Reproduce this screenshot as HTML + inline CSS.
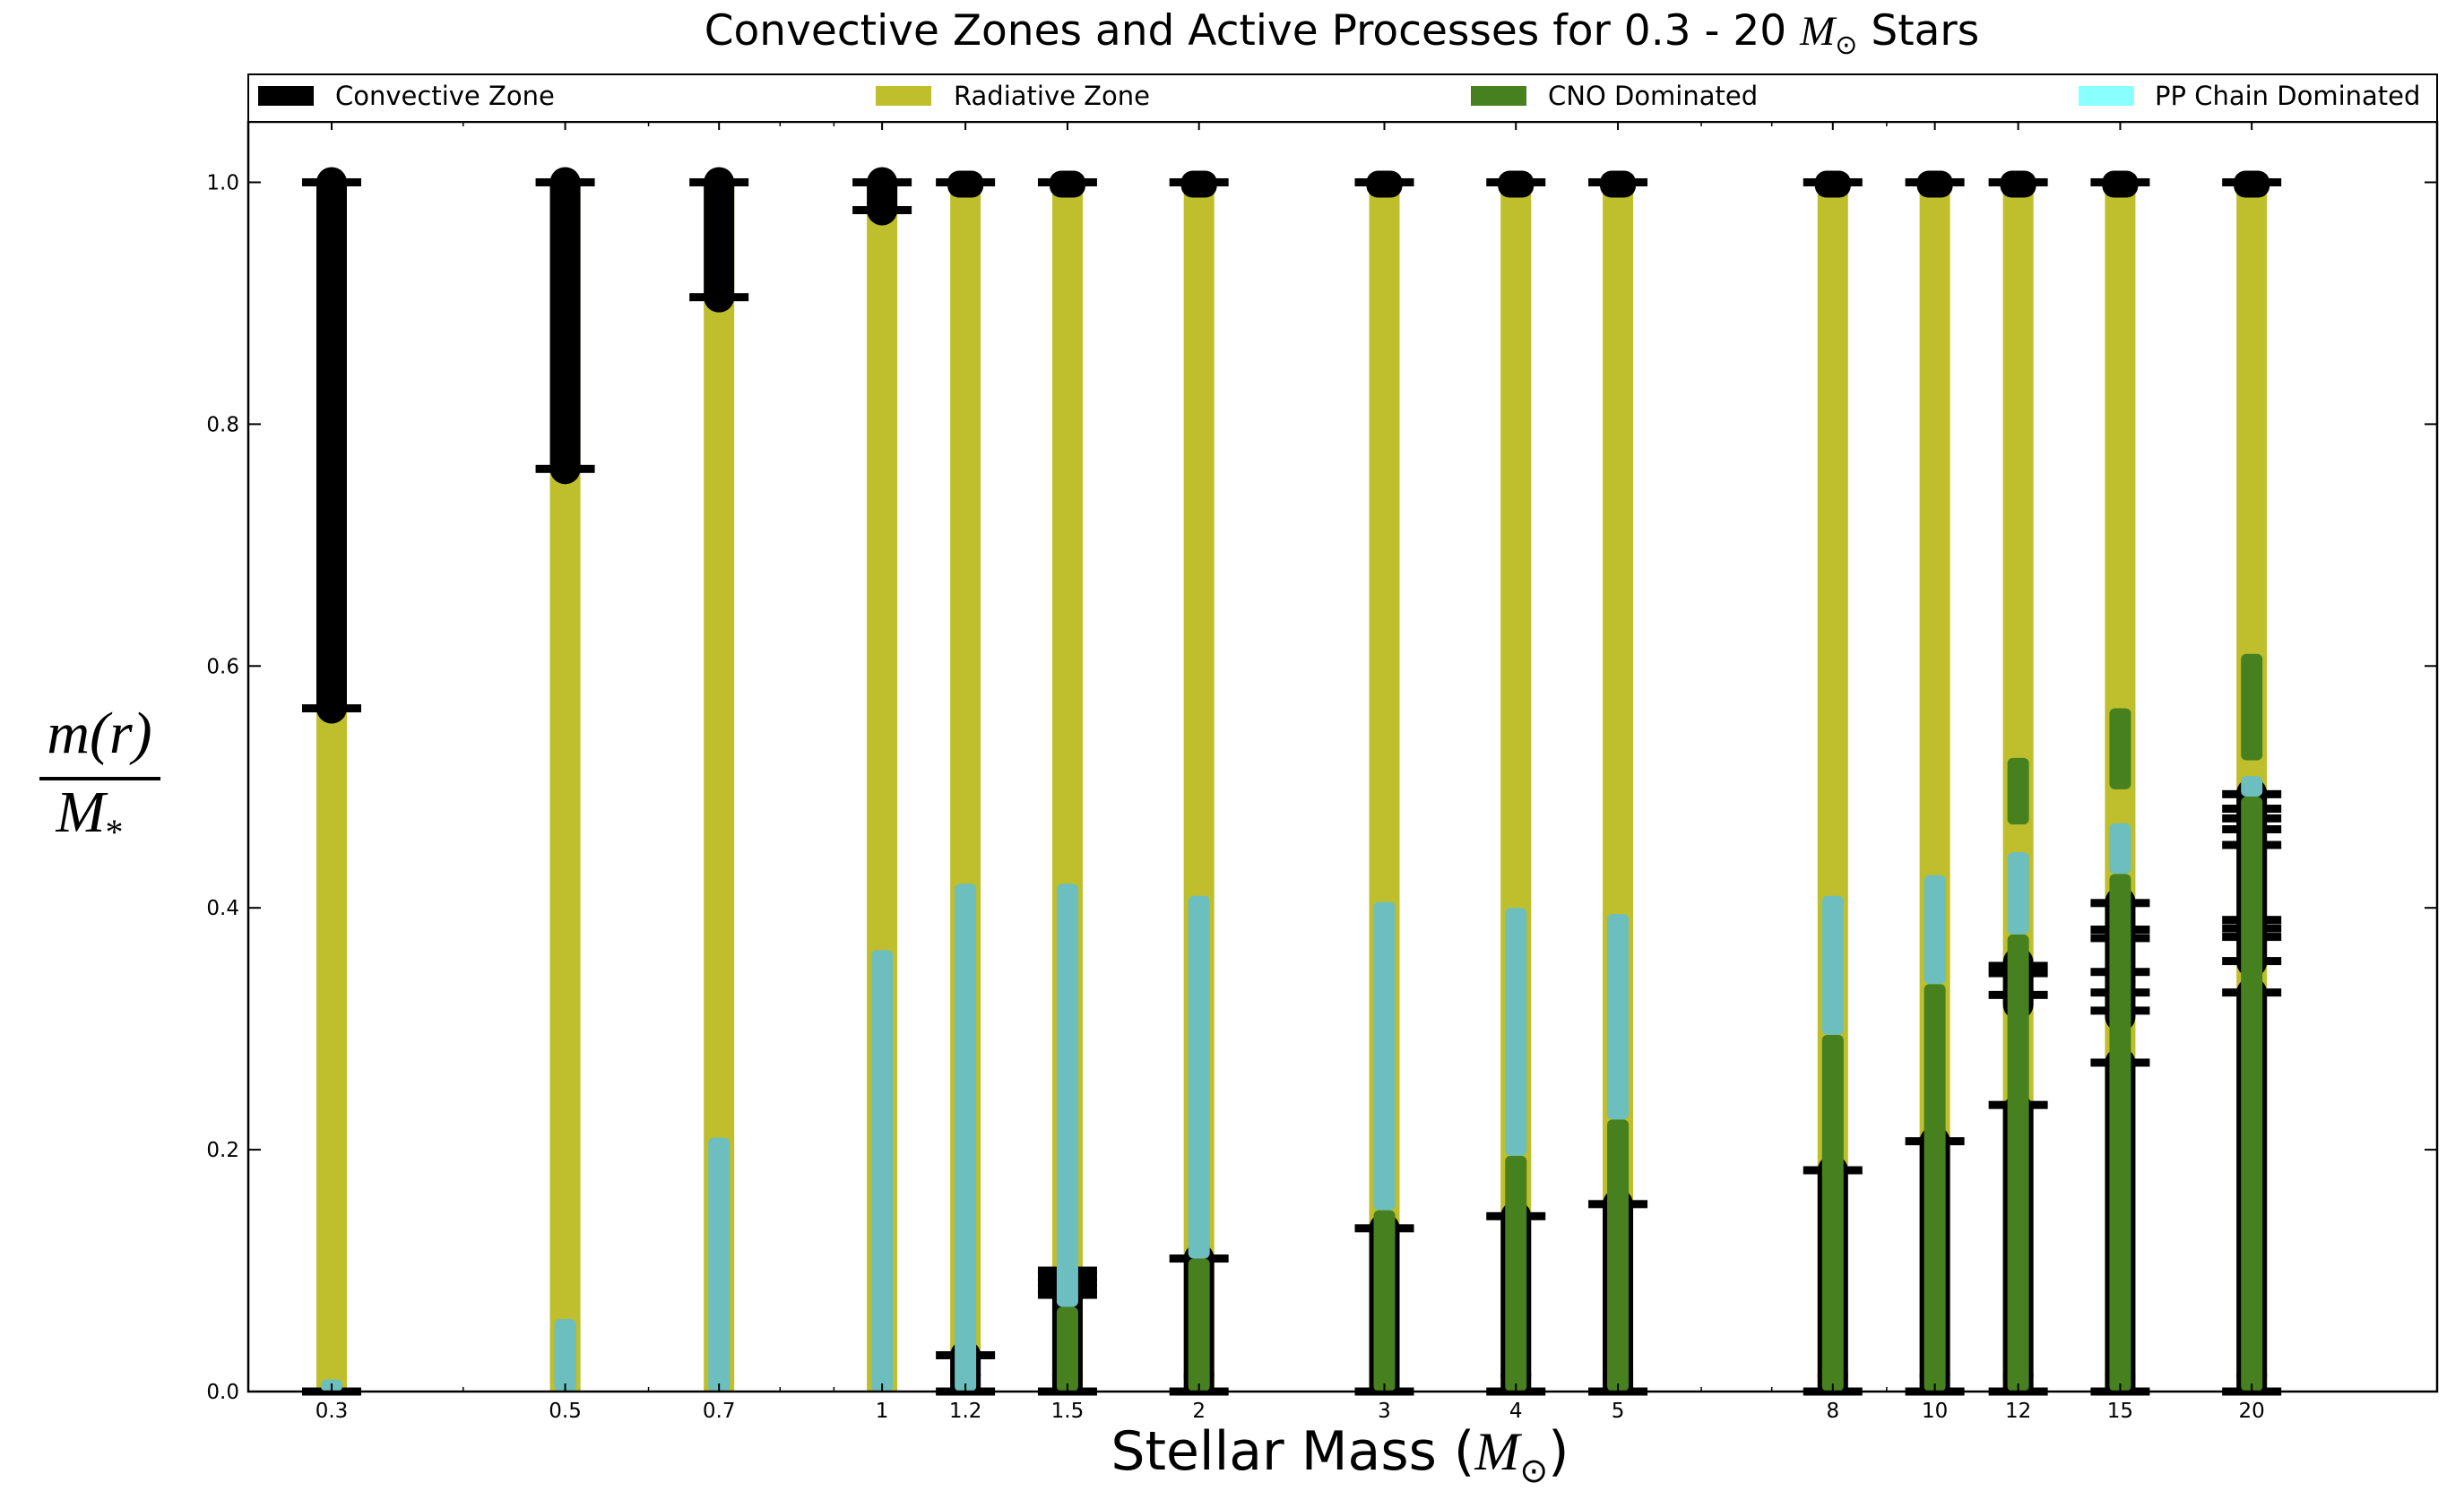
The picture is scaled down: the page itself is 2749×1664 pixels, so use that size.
<!DOCTYPE html>
<html><head><meta charset="utf-8"><style>
html,body{margin:0;padding:0;background:#fff;}
svg{display:block;}
.sans{font-family:"DejaVu Sans","Liberation Sans",sans-serif;}
.serif{font-family:"Liberation Serif","DejaVu Serif",serif;font-style:italic;}
</style></head><body>
<svg id="chart" width="2749" height="1664" viewBox="0 0 2749 1664" xmlns="http://www.w3.org/2000/svg">
<rect x="0" y="0" width="2749" height="1664" fill="#fff"/>
<text class="sans" x="1497" y="50" font-size="47" text-anchor="middle">Convective Zones and Active Processes for 0.3 - 20 <tspan class="serif">M</tspan><tspan font-size="30" dy="10">⊙</tspan><tspan dy="-10"> Stars</tspan></text>
<g id="plot"></g>
<g class="sans">
<rect x="277" y="83" width="2442" height="53" fill="#fff" stroke="#000" stroke-width="2"/>
<g><rect x="288" y="96" width="62" height="22" fill="#000"/><text x="374" y="117" font-size="29">Convective Zone</text></g>
<g><rect x="977" y="96" width="62" height="22" fill="#bfbe2c"/><text x="1064" y="117" font-size="29">Radiative Zone</text></g>
<g><rect x="1641" y="96" width="62" height="22" fill="#46801f"/><text x="1727" y="117" font-size="29">CNO Dominated</text></g>
<g><rect x="2319" y="96" width="62" height="22" fill="#8affff"/><text x="2404" y="117" font-size="29">PP Chain Dominated</text></g>
</g>
<text class="sans" x="1495" y="1640" font-size="60" text-anchor="middle">Stellar Mass (<tspan class="serif">M</tspan><tspan font-size="38" dy="14">⊙</tspan><tspan dy="-14">)</tspan></text>
<g>
<text class="serif" x="111" y="840" font-size="66" text-anchor="middle">m(r)</text>
<line x1="44" y1="869" x2="179" y2="869" stroke="#000" stroke-width="4"/>
<text class="serif" x="100" y="928" font-size="66" text-anchor="middle">M<tspan font-size="40" dy="14" style="font-style:normal">*</tspan></text>
</g>
</svg>
<script>
const masses = [0.3,0.5,0.7,1,1.2,1.5,2,3,4,5,8,10,12,15,20];
const massLabels = ["0.3","0.5","0.7","1","1.2","1.5","2","3","4","5","8","10","12","15","20"];
const convZones = [
 [[0.565,1.0]],[[0.763,1.0]],[[0.905,1.0]],[[0.977,1.0]],
 [[0.997,1.0],[0,0.03]],[[0.997,1.0],[0,0.09]],[[0.997,1.0],[0,0.11]],
 [[0.997,1.0],[0,0.135]],[[0.997,1.0],[0,0.145]],[[0.997,1.0],[0,0.155]],
 [[0.997,1.0],[0,0.183]],[[0.997,1.0],[0,0.207]],
 [[0.997,1.0],[0,0.233],[0.32,0.355]],
 [[0.997,1.0],[0,0.272],[0.31,0.339],[0.339,0.405]],
 [[0.997,1.0],[0,0.33],[0.355,0.495]]
];
const capValues = [
 [1.0,0.565,0.0],[1.0,0.763],[1.0,0.905],[1.0,0.977],
 [1.0,0.03,0.0],[1.0,0.1,0.095,0.09,0.085,0.08,0.0],[1.0,0.11,0.0],
 [1.0,0.135,0.0],[1.0,0.145,0.0],[1.0,0.155,0.0],
 [1.0,0.183,0.0],[1.0,0.207,0.0],
 [1.0,0.352,0.346,0.328,0.237,0.0],
 [1.0,0.404,0.382,0.375,0.347,0.330,0.315,0.272,0.0],
 [1.0,0.494,0.482,0.474,0.465,0.452,0.39,0.383,0.376,0.356,0.330,0.0]
];
const cnoZones = [
 [],[],[],[],[],[[0,0.07]],[[0,0.11]],[[0,0.15]],[[0,0.195]],[[0,0.225]],
 [[0,0.295]],[[0,0.337]],[[0,0.378],[0.469,0.524]],[[0,0.428],[0.498,0.565]],[[0,0.492],[0.522,0.61]]
];
const ppZones = [
 [[0,0.01]],[[0,0.06]],[[0,0.21]],[[0,0.365]],[[0,0.42]],[[0.07,0.42]],[[0.11,0.41]],
 [[0.15,0.405]],[[0.195,0.40]],[[0.225,0.395]],[[0.295,0.41]],[[0.337,0.427]],
 [[0.378,0.446]],[[0.428,0.47]],[[0.492,0.509]]
];
const yTicks = [0,0.2,0.4,0.6,0.8,1.0];
const yTickLabels = ["0.0","0.2","0.4","0.6","0.8","1.0"];

const NS="http://www.w3.org/2000/svg";
const L=277,R=2719,T=136,B=1553;
const xMin=Math.log10(0.25), xMax=Math.log10(30);
const yMin=0, yMax=1.05;
function xs(m){return L+(Math.log10(m)-xMin)/(xMax-xMin)*(R-L);}
function ys(v){return B-(v-yMin)/(yMax-yMin)*(B-T);}
const plot=document.getElementById('plot');
function mk(tag,attrs,parent){const e=document.createElementNS(NS,tag);for(const k in attrs)e.setAttribute(k,attrs[k]);(parent||plot).appendChild(e);return e;}

masses.forEach((m,i)=>{
 const cx=xs(m);
 const g=mk('g',{});
 
 
 const rad=mk('rect',{x:cx-17,y:ys(1),width:34,height:ys(0)-ys(1),fill:'#bfbe2c'},g);
 
 
 convZones[i].forEach(z=>{
  let c;
  if(z[1]-z[0]<0.01){
   const yc=ys((z[0]+z[1])/2);
   c=mk('rect',{x:cx-20,y:yc-15,width:40,height:30,rx:13,ry:13,fill:'#000'},g);
  } else {
   const top=ys(z[1])-17, bot=Math.min(ys(z[0])+17, B);
   c=mk('rect',{x:cx-17,y:top,width:34,height:bot-top,rx:17,ry:17,fill:'#000'},g);
   if(z[0]===0){const c2=mk('rect',{x:cx-17,y:ys(z[0])-20,width:34,height:20,fill:'#000'},g);
    
    }
  }
  
  
 });
 capValues[i].forEach(v=>{
  const cp=mk('rect',{x:cx-33,y:ys(v)-4.5,width:66,height:9,fill:'#000'},g);
  
  
 });
 cnoZones[i].forEach(z=>{
  const top=ys(z[1]),bot=ys(z[0]);
  const c=mk('rect',{x:cx-12,y:top,width:24,height:bot-top,rx:6,ry:6,fill:'#46801f'},g);
  
  
 });
 ppZones[i].forEach(z=>{
  const top=ys(z[1]),bot=ys(z[0]);
  const c=mk('rect',{x:cx-12,y:top,width:24,height:Math.max(bot-top,10),rx:6,ry:6,fill:'#6cbfbe'},g);
  
  
 });
 const tl=mk('text',{x:cx,y:1582,'font-size':23,'text-anchor':'middle','class':'sans'});
 tl.textContent=massLabels[i];
 
 
 [[B,B-9],[T,T+9]].forEach(p=>{const t=mk('line',{x1:cx,x2:cx,y1:p[0],y2:p[1],stroke:'#000','stroke-width':2});
  
  });
});
[0.4,0.6,0.8,0.9,6,7,9,30].forEach(m=>{
 [[B,B-5],[T,T+5]].forEach(p=>{const t=mk('line',{x1:xs(m),x2:xs(m),y1:p[0],y2:p[1],stroke:'#000','stroke-width':1.5});
  
  });
});
yTicks.forEach((v,i)=>{
 const y=ys(v);
 const t1=mk('line',{x1:L,x2:L+14,y1:y,y2:y,stroke:'#000','stroke-width':2});
 
 
 const t2=mk('line',{x1:R,x2:R-14,y1:y,y2:y,stroke:'#000','stroke-width':2});
 
 
 const lb=mk('text',{x:L-10,y:y+8,'font-size':23,'text-anchor':'end','class':'sans'});
 lb.textContent=yTickLabels[i];
 
 
});
const frame=mk('rect',{x:L,y:T,width:R-L,height:B-T,fill:'none',stroke:'#000','stroke-width':2.5});


</script>
</body></html>
